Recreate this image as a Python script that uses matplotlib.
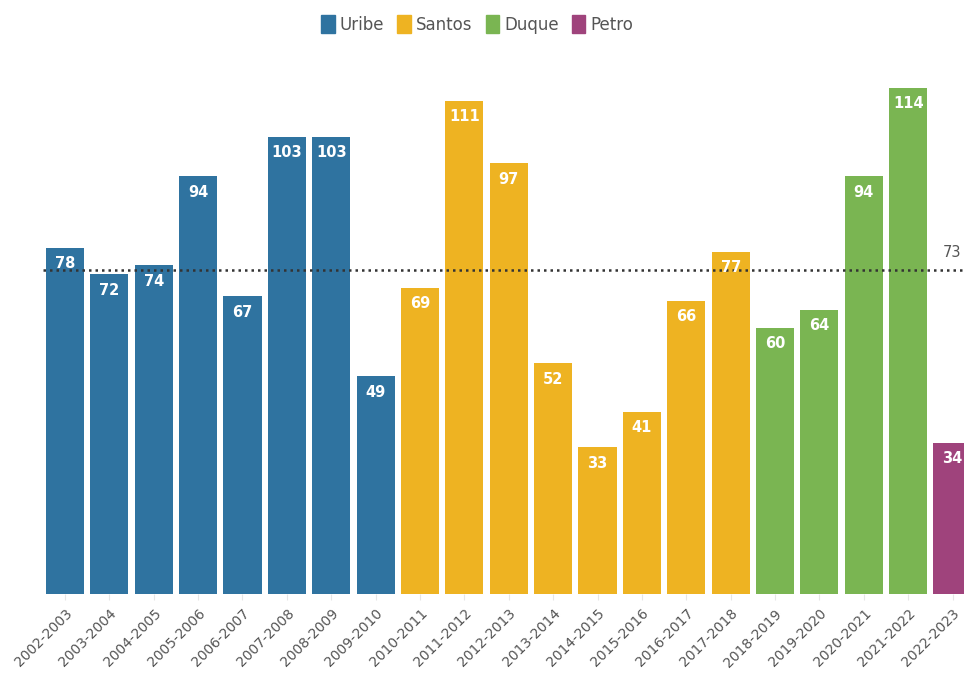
import matplotlib.pyplot as plt
from matplotlib.patches import Patch
from matplotlib.transforms import blended_transform_factory

# ── Data ──────────────────────────────────────────────────────────────────────
periods = ['2002-2003', '2003-2004', '2004-2005', '2005-2006', '2006-2007',
           '2007-2008', '2008-2009', '2009-2010', '2010-2011', '2011-2012',
           '2012-2013', '2013-2014', '2014-2015', '2015-2016', '2016-2017',
           '2017-2018', '2018-2019', '2019-2020', '2020-2021', '2021-2022',
           '2022-2023']
values = [78, 72, 74, 94, 67, 103, 103, 49,
          69, 111, 97, 52, 33, 41, 66, 77,
          60, 64, 94, 114,
          34]
presidents = ['Uribe'] * 8 + ['Santos'] * 8 + ['Duque'] * 4 + ['Petro']
mean_value = 73

colors = {'Uribe': '#2f73a0', 'Santos': '#eeb322',
          'Duque': '#7ab552', 'Petro': '#9f437c'}

# ── Canvas ────────────────────────────────────────────────────────────────────
fig = plt.figure(figsize=(9.64, 6.75), dpi=100)
fig.patch.set_facecolor('white')
ax = fig.add_axes([0.0444, 0.12, 0.9667, 0.7896])

x = list(range(len(periods)))
bar_colors = [colors[p] for p in presidents]
ax.bar(x, values, width=0.86, color=bar_colors, zorder=2)

for xi, v in zip(x, values):
    ax.text(xi, v - 3.6, str(v), ha='center', va='center', color='white',
            fontsize=10.5, fontweight='bold', zorder=4)

# mean line
ax.axhline(mean_value, color='#333333', linestyle=(0, (1, 1.6)), lw=1.8, zorder=3)
ax.text(0.997, mean_value + 2.3, str(mean_value), ha='right', va='bottom',
        color='#555555', fontsize=10.5,
        transform=blended_transform_factory(fig.transFigure, ax.transData))

ax.set_xlim(-0.5, 20.5)
ax.set_ylim(0, 120)
ax.set_xticks(x)
ax.set_xticklabels(periods, rotation=45, ha='right', rotation_mode='anchor',
                   fontsize=10, color='#555555')
ax.tick_params(axis='x', length=4, color='#e6e6e6', pad=5)
ax.set_yticks([])
for s in ax.spines.values():
    s.set_visible(False)

# legend
handles = [Patch(facecolor=colors[k], edgecolor=colors[k], label=k)
           for k in ['Uribe', 'Santos', 'Duque', 'Petro']]
fig.legend(handles=handles, loc='center', bbox_to_anchor=(0.495, 0.964),
           ncol=4, frameon=False, fontsize=12, labelcolor='#555555',
           handlelength=0.8, handleheight=1.3, handletextpad=0.3,
           columnspacing=0.8)

fig.savefig('out.png', dpi=100, facecolor='white')
